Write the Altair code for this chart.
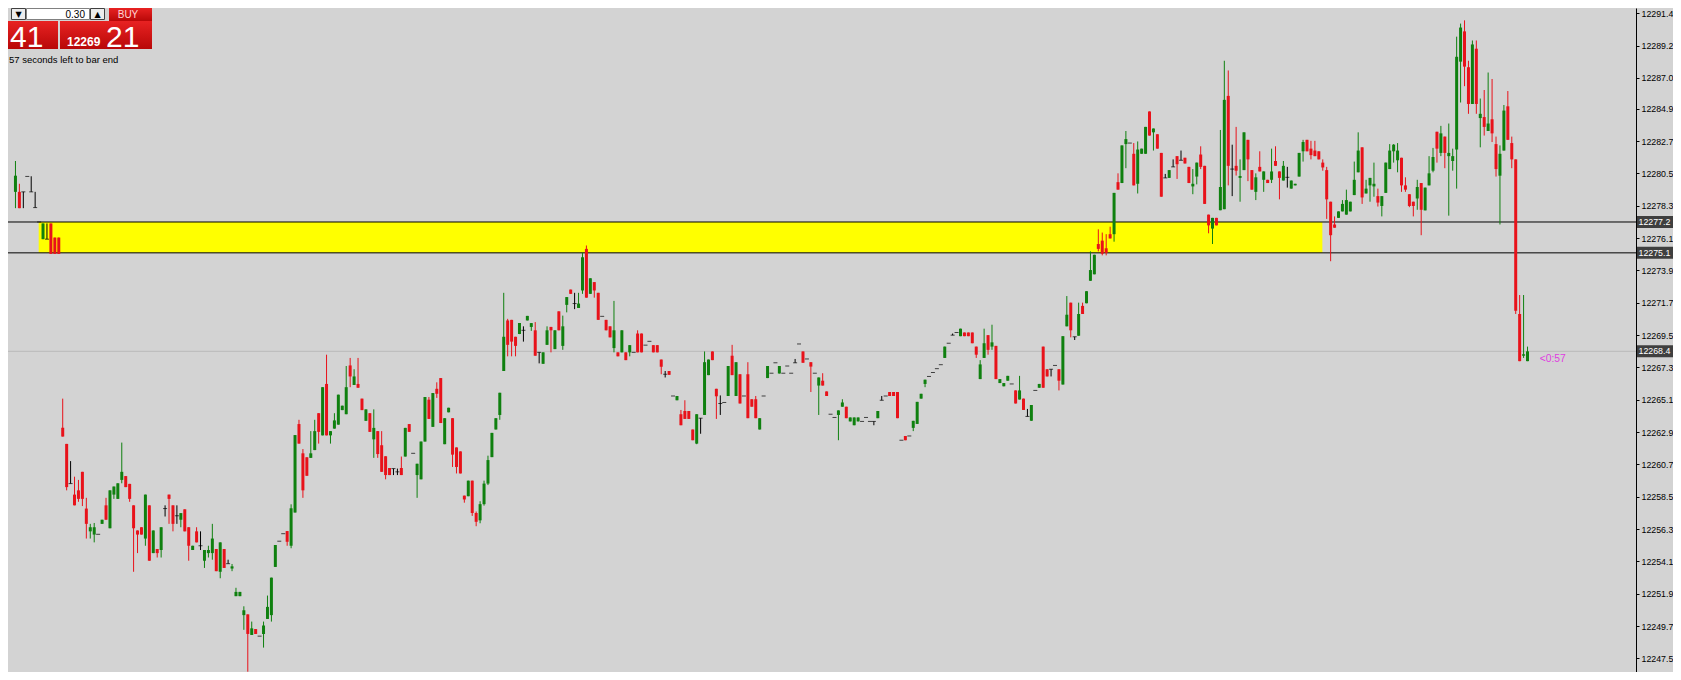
import altair as alt
import pandas as pd

# ---------------- data: candles as (open, high, low, close), one tuple per bar ----------------
SEG_A = [
    (12279.25, 12281.35, 12278.14, 12280.35), (12279.25, 12279.80, 12278.14, 12278.14),
    (12279.25, 12279.25, 12278.14, 12279.25), (12280.30, 12280.30, 12280.30, 12280.30),
    (12279.25, 12280.31, 12279.25, 12279.25), (12278.18, 12279.25, 12278.18, 12278.18),
    (12277.20, 12277.20, 12277.20, 12277.20), (12276.03, 12277.10, 12276.03, 12277.10),
    (12276.03, 12277.10, 12276.03, 12276.03), (12277.10, 12277.10, 12275.03, 12275.03),
    (12276.14, 12276.14, 12275.03, 12275.03), (12276.14, 12276.14, 12275.03, 12275.03),
]
SEG_B = [
    (12263.20, 12265.18, 12262.60, 12262.60), (12262.10, 12262.10, 12258.94, 12259.16),
    (12259.40, 12260.93, 12259.40, 12259.40), (12258.65, 12259.87, 12257.92, 12257.92),
    (12258.94, 12259.65, 12258.16, 12258.36), (12260.20, 12260.20, 12257.87, 12258.36),
    (12257.70, 12258.43, 12255.66, 12256.66), (12256.15, 12256.66, 12255.66, 12256.43),
    (12255.93, 12256.72, 12255.40, 12256.43), (12255.95, 12255.95, 12255.95, 12255.95),
    (12256.66, 12256.94, 12256.66, 12256.94), (12257.92, 12258.43, 12256.94, 12256.94),
    (12256.36, 12258.94, 12256.36, 12258.94), (12258.65, 12259.20, 12258.36, 12259.20),
    (12258.36, 12259.42, 12258.36, 12259.42), (12259.65, 12262.19, 12259.42, 12260.20),
    (12259.91, 12259.91, 12259.16, 12259.16), (12259.38, 12259.38, 12258.16, 12258.36),
    (12257.92, 12257.92, 12253.40, 12256.36), (12256.21, 12256.21, 12254.67, 12255.93),
    (12256.43, 12256.43, 12255.93, 12255.93), (12255.66, 12258.65, 12255.17, 12258.65),
    (12257.92, 12257.92, 12254.15, 12254.15), (12254.67, 12256.21, 12254.67, 12256.21),
    (12254.95, 12254.95, 12254.37, 12254.67), (12254.88, 12256.43, 12254.37, 12256.43),
    (12257.70, 12257.92, 12257.16, 12257.70), (12258.65, 12258.65, 12256.66, 12258.36),
    (12257.92, 12257.92, 12256.15, 12256.66), (12257.21, 12257.92, 12256.66, 12257.21),
    (12256.94, 12257.39, 12256.43, 12257.39), (12257.65, 12257.65, 12256.15, 12256.15),
    (12256.43, 12256.43, 12254.15, 12255.17), (12254.88, 12255.17, 12254.88, 12255.17),
    (12256.15, 12256.43, 12255.40, 12255.40), (12255.17, 12256.15, 12254.88, 12255.17),
    (12254.15, 12254.88, 12253.66, 12254.88), (12254.67, 12255.17, 12254.37, 12254.88),
    (12254.67, 12256.66, 12254.22, 12255.66), (12254.95, 12254.95, 12253.44, 12253.44),
    (12253.40, 12255.40, 12252.96, 12255.40), (12254.95, 12254.95, 12253.66, 12253.66),
    (12253.95, 12254.22, 12253.95, 12253.95), (12253.62, 12253.93, 12253.44, 12253.77),
    (12251.74, 12252.31, 12251.74, 12252.03),
]
SEG_C = [
    (12251.74, 12252.03, 12251.74, 12252.03), (12250.45, 12251.05, 12249.45, 12250.78),
    (12250.50, 12250.50, 12246.60, 12249.17), (12249.10, 12250.01, 12249.10, 12249.55),
    (12249.50, 12249.50, 12249.17, 12249.17), (12249.02, 12249.02, 12249.02, 12249.02),
    (12249.17, 12250.01, 12248.24, 12249.75), (12250.19, 12251.78, 12250.19, 12251.01),
    (12250.45, 12253.00, 12250.01, 12253.00), (12253.73, 12255.22, 12253.73, 12255.22),
    (12255.48, 12255.48, 12255.48, 12255.48), (12255.99, 12255.99, 12255.99, 12255.99),
    (12256.17, 12256.17, 12255.17, 12255.44), (12255.17, 12257.99, 12255.00, 12257.72),
    (12257.43, 12262.70, 12257.43, 12262.70), (12263.45, 12263.74, 12262.12, 12262.12),
    (12261.46, 12261.75, 12258.43, 12258.94), (12261.19, 12261.19, 12259.93, 12259.93),
    (12261.15, 12262.97, 12261.15, 12261.46), (12261.68, 12263.74, 12261.68, 12262.97),
    (12264.19, 12264.19, 12262.12, 12262.92), (12262.68, 12265.96, 12262.68, 12265.96),
    (12266.18, 12268.17, 12262.68, 12262.68), (12262.68, 12262.97, 12262.12, 12262.97),
    (12263.14, 12264.19, 12263.14, 12263.70), (12263.41, 12265.45, 12263.41, 12265.45),
    (12264.40, 12264.70, 12264.40, 12264.70), (12264.12, 12267.40, 12264.12, 12265.96),
    (12267.44, 12267.95, 12265.96, 12266.69), (12266.11, 12267.18, 12266.11, 12266.69),
    (12266.18, 12267.95, 12265.92, 12265.92), (12265.18, 12265.18, 12264.40, 12264.40),
    (12263.67, 12264.45, 12263.67, 12264.45), (12264.19, 12264.19, 12262.92, 12262.92),
    (12262.41, 12264.45, 12261.15, 12263.19), (12262.97, 12262.97, 12261.15, 12261.41),
    (12262.01, 12262.97, 12260.20, 12260.20), (12261.26, 12261.26, 12259.69, 12259.98),
    (12260.46, 12260.46, 12259.98, 12259.98), (12260.42, 12260.42, 12259.98, 12260.42),
    (12260.20, 12260.42, 12259.98, 12260.20), (12260.46, 12261.24, 12259.98, 12259.98),
    (12261.24, 12263.19, 12261.24, 12263.19), (12263.45, 12263.45, 12262.92, 12262.92),
    (12261.46, 12261.46, 12261.46, 12261.46), (12259.98, 12260.75, 12258.43, 12260.75),
    (12259.69, 12262.26, 12259.69, 12262.26), (12262.26, 12265.29, 12262.26, 12265.29),
    (12265.11, 12265.29, 12263.80, 12263.80), (12263.26, 12265.56, 12263.26, 12265.56),
    (12265.85, 12266.29, 12265.23, 12265.51), (12266.58, 12266.58, 12263.52, 12263.52),
    (12262.08, 12263.85, 12262.08, 12263.85), (12264.25, 12264.56, 12264.25, 12264.56),
    (12263.85, 12263.85, 12260.53, 12261.37), (12261.86, 12261.86, 12260.09, 12260.53),
    (12261.59, 12261.59, 12260.09, 12260.09), (12258.58, 12258.58, 12258.10, 12258.32),
    (12258.54, 12259.60, 12258.54, 12259.60),
]
SEG_D = [
    (12259.60, 12259.60, 12257.20, 12257.40), (12257.40, 12257.50, 12256.50, 12256.80),
    (12256.90, 12258.20, 12256.70, 12258.00), (12258.00, 12259.60, 12257.90, 12259.40),
    (12259.40, 12261.30, 12259.30, 12261.00), (12261.20, 12262.85, 12261.20, 12262.85),
    (12263.08, 12263.85, 12263.08, 12263.85), (12264.07, 12265.58, 12263.74, 12265.58),
    (12267.06, 12272.38, 12267.06, 12269.39), (12270.50, 12270.61, 12268.06, 12268.84),
    (12270.54, 12270.54, 12268.06, 12269.06), (12269.39, 12269.39, 12268.06, 12268.77),
    (12269.57, 12270.32, 12269.57, 12270.32), (12269.83, 12270.10, 12269.06, 12269.83),
    (12270.50, 12270.81, 12270.50, 12270.81), (12270.06, 12270.32, 12269.79, 12270.32),
    (12269.83, 12270.39, 12268.10, 12268.10), (12268.33, 12268.33, 12267.58, 12268.33),
    (12267.55, 12268.33, 12267.55, 12268.33), (12268.84, 12270.10, 12268.84, 12269.83),
    (12270.06, 12270.06, 12268.33, 12269.83), (12268.55, 12269.83, 12268.55, 12269.83),
    (12271.12, 12271.12, 12269.83, 12269.83), (12268.77, 12270.83, 12268.50, 12270.10),
    (12271.56, 12272.09, 12271.05, 12272.09), (12272.60, 12272.60, 12272.31, 12272.31),
    (12271.65, 12272.38, 12271.27, 12271.65), (12271.35, 12272.38, 12271.35, 12271.65),
    (12272.54, 12275.10, 12272.31, 12274.80), (12275.37, 12275.60, 12272.05, 12272.05),
    (12272.31, 12273.37, 12272.31, 12273.37), (12273.11, 12273.11, 12272.05, 12272.54),
    (12272.38, 12272.38, 12270.54, 12270.54), (12270.78, 12270.78, 12270.78, 12270.78),
    (12270.54, 12270.54, 12269.83, 12269.83), (12270.10, 12270.10, 12269.35, 12269.35),
    (12268.62, 12271.83, 12268.33, 12269.83), (12268.33, 12268.33, 12268.06, 12268.06),
    (12268.33, 12269.83, 12268.33, 12269.83), (12268.33, 12268.33, 12267.80, 12267.80),
    (12268.33, 12268.82, 12268.06, 12268.82), (12268.33, 12268.33, 12268.33, 12268.33),
    (12269.61, 12269.83, 12268.33, 12268.33), (12269.61, 12269.61, 12268.33, 12268.33),
    (12268.82, 12268.82, 12268.82, 12268.82), (12269.08, 12269.08, 12269.08, 12269.08),
    (12268.82, 12268.82, 12268.33, 12268.33), (12268.82, 12268.82, 12268.33, 12268.33),
    (12267.84, 12267.84, 12266.84, 12267.35), (12266.84, 12267.06, 12266.62, 12266.84),
    (12267.06, 12267.06, 12266.80, 12266.80), (12265.36, 12265.36, 12265.36, 12265.36),
    (12265.07, 12265.36, 12265.07, 12265.36), (12264.12, 12264.41, 12263.37, 12263.37),
    (12264.34, 12265.07, 12263.80, 12263.80), (12264.34, 12264.34, 12263.80, 12263.80),
    (12263.08, 12263.08, 12262.35, 12262.35),
]
SEG_E = [
    (12262.12, 12264.12, 12262.08, 12264.12), (12263.85, 12263.85, 12262.79, 12263.85),
    (12264.07, 12268.39, 12264.07, 12267.66), (12266.78, 12267.84, 12266.78, 12267.84),
    (12268.39, 12268.39, 12267.80, 12267.80), (12265.85, 12265.85, 12263.80, 12265.34),
    (12264.85, 12265.40, 12264.07, 12264.85), (12264.92, 12264.92, 12264.92, 12264.92),
    (12265.36, 12267.40, 12265.36, 12267.40), (12268.10, 12268.84, 12266.78, 12266.78),
    (12265.36, 12267.66, 12265.36, 12267.66), (12266.84, 12266.84, 12264.85, 12264.85),
    (12265.36, 12265.36, 12265.36, 12265.36), (12266.84, 12267.66, 12263.85, 12263.85),
    (12265.14, 12265.14, 12264.63, 12264.63), (12265.14, 12265.36, 12263.85, 12263.85),
    (12263.08, 12263.85, 12263.08, 12263.85), (12265.36, 12265.36, 12265.36, 12265.36),
    (12266.58, 12267.40, 12266.58, 12267.40), (12266.91, 12266.91, 12266.91, 12266.91),
    (12267.62, 12267.62, 12267.62, 12267.62), (12266.89, 12267.40, 12266.89, 12267.40),
    (12266.91, 12266.91, 12266.91, 12266.91), (12267.40, 12267.40, 12267.40, 12267.40),
    (12266.91, 12266.91, 12266.91, 12266.91), (12267.62, 12267.88, 12267.62, 12267.62),
    (12268.90, 12268.90, 12268.90, 12268.90), (12268.39, 12268.39, 12267.62, 12267.62),
    (12267.88, 12267.88, 12267.88, 12267.88), (12267.66, 12267.66, 12265.63, 12267.36),
    (12266.91, 12266.91, 12266.91, 12266.91), (12266.07, 12266.62, 12264.07, 12266.62),
    (12266.40, 12266.91, 12266.07, 12266.07), (12265.67, 12265.67, 12265.36, 12265.36),
    (12264.12, 12264.12, 12264.12, 12264.12), (12263.90, 12263.90, 12263.90, 12263.90),
    (12264.07, 12264.38, 12262.35, 12264.38), (12264.63, 12265.14, 12264.63, 12264.92),
    (12264.63, 12264.63, 12263.85, 12263.85), (12263.63, 12263.90, 12263.63, 12263.90),
    (12263.37, 12263.90, 12263.37, 12263.90), (12263.63, 12263.90, 12263.63, 12263.90),
    (12263.63, 12263.63, 12263.63, 12263.63), (12263.90, 12263.90, 12263.90, 12263.90),
    (12263.63, 12263.63, 12263.63, 12263.63), (12263.63, 12263.63, 12263.37, 12263.63),
    (12263.85, 12264.34, 12263.85, 12264.34), (12265.07, 12265.36, 12265.07, 12265.07),
    (12265.36, 12265.36, 12265.36, 12265.36), (12265.63, 12265.63, 12265.36, 12265.36),
    (12265.63, 12265.63, 12265.36, 12265.36), (12265.63, 12265.63, 12263.85, 12263.85),
    (12262.35, 12262.35, 12262.35, 12262.35), (12262.64, 12262.64, 12262.35, 12262.35),
    (12262.64, 12262.64, 12262.64, 12262.64), (12263.19, 12263.67, 12262.97, 12263.67),
    (12263.46, 12264.96, 12263.46, 12264.96), (12265.18, 12265.51, 12265.18, 12265.51),
    (12266.18, 12266.47, 12265.96, 12266.47), (12266.69, 12266.69, 12266.69, 12266.69),
]
SEG_F = [
    (12266.96, 12266.96, 12266.96, 12266.96), (12267.22, 12267.22, 12267.22, 12267.22),
    (12267.49, 12267.49, 12267.49, 12267.49), (12267.95, 12268.72, 12267.95, 12268.72),
    (12268.95, 12268.95, 12268.95, 12268.95), (12269.50, 12269.61, 12269.50, 12269.50),
    (12269.68, 12269.68, 12269.68, 12269.68), (12269.43, 12269.94, 12269.43, 12269.94),
    (12269.68, 12269.68, 12269.43, 12269.43), (12269.68, 12269.68, 12269.43, 12269.43),
    (12269.68, 12269.68, 12268.95, 12268.95), (12268.72, 12268.72, 12267.95, 12268.17),
    (12266.51, 12267.80, 12266.51, 12267.51), (12267.95, 12269.94, 12267.95, 12268.95),
    (12269.50, 12269.50, 12268.17, 12268.50), (12268.72, 12270.21, 12268.50, 12269.01),
    (12268.77, 12268.77, 12266.51, 12266.51), (12266.24, 12266.51, 12266.24, 12266.51),
    (12266.02, 12266.24, 12266.02, 12266.24), (12266.40, 12266.73, 12266.40, 12266.73),
    (12266.18, 12266.18, 12266.18, 12266.18), (12265.74, 12265.74, 12264.85, 12264.85),
    (12265.12, 12266.73, 12265.12, 12265.74), (12265.18, 12265.18, 12264.41, 12264.41),
    (12263.97, 12264.48, 12263.97, 12263.97), (12263.67, 12264.74, 12263.67, 12264.74),
    (12265.74, 12265.74, 12265.74, 12265.74), (12265.92, 12266.18, 12265.92, 12266.18),
    (12268.72, 12268.72, 12265.92, 12265.92), (12267.18, 12267.18, 12266.69, 12266.69),
    (12267.18, 12267.18, 12266.69, 12267.18), (12267.44, 12267.44, 12267.44, 12267.44),
    (12267.18, 12267.18, 12265.74, 12266.40), (12266.14, 12269.43, 12266.14, 12269.43),
    (12270.10, 12272.16, 12270.10, 12270.89), (12271.71, 12271.71, 12269.35, 12269.83),
    (12269.39, 12269.39, 12269.17, 12269.39), (12269.46, 12271.71, 12269.46, 12270.94),
    (12271.49, 12271.71, 12270.94, 12270.94), (12271.67, 12272.49, 12271.67, 12272.49),
    (12273.20, 12275.20, 12273.20, 12273.93), (12273.64, 12274.97, 12273.64, 12274.97),
    (12275.70, 12276.70, 12275.20, 12275.37), (12275.93, 12276.48, 12274.93, 12275.04),
    (12275.41, 12276.37, 12274.93, 12275.10), (12276.37, 12276.88, 12276.08, 12276.08),
    (12276.37, 12279.18, 12275.86, 12279.18), (12279.91, 12280.51, 12279.40, 12279.40),
    (12279.85, 12282.41, 12279.85, 12282.41), (12282.50, 12283.39, 12280.86, 12282.84),
    (12282.57, 12282.57, 12282.57, 12282.57), (12281.84, 12282.57, 12279.69, 12279.69),
    (12279.80, 12282.68, 12279.14, 12282.13), (12281.84, 12282.19, 12281.84, 12282.19),
    (12281.84, 12283.67, 12281.84, 12283.67), (12284.72, 12284.72, 12283.08, 12283.08),
]
SEG_G = [
    (12283.30, 12283.56, 12282.06, 12283.56), (12283.17, 12283.17, 12282.19, 12282.19),
    (12281.90, 12281.90, 12278.92, 12278.92), (12280.20, 12280.47, 12280.20, 12280.20),
    (12280.20, 12280.73, 12280.20, 12280.73), (12280.95, 12281.46, 12280.95, 12280.95),
    (12281.68, 12281.68, 12280.13, 12281.13), (12281.40, 12282.06, 12281.40, 12281.40),
    (12281.57, 12281.57, 12281.18, 12281.18), (12280.95, 12280.95, 12279.85, 12279.85),
    (12279.62, 12280.80, 12279.09, 12279.80), (12280.29, 12281.24, 12279.76, 12281.24),
    (12281.79, 12282.35, 12280.80, 12280.95), (12281.02, 12281.02, 12278.43, 12278.43),
    (12277.70, 12277.70, 12276.43, 12276.97), (12276.75, 12277.48, 12275.70, 12277.48),
    (12277.48, 12277.48, 12276.97, 12276.97), (12278.00, 12283.46, 12278.00, 12279.58),
    (12278.07, 12288.17, 12278.07, 12285.51), (12285.78, 12287.51, 12279.69, 12281.02),
    (12280.80, 12282.46, 12278.96, 12280.80), (12281.02, 12283.67, 12280.36, 12280.69),
    (12280.20, 12281.46, 12278.58, 12280.33), (12280.73, 12283.30, 12280.73, 12283.30),
    (12282.79, 12282.79, 12279.98, 12281.46), (12280.73, 12280.73, 12279.40, 12279.40),
    (12279.25, 12280.51, 12278.69, 12280.24), (12280.95, 12282.01, 12280.64, 12280.64),
    (12280.07, 12280.64, 12279.25, 12280.64), (12280.07, 12280.07, 12279.85, 12279.85),
    (12280.07, 12282.19, 12279.85, 12280.64), (12281.35, 12282.35, 12281.02, 12281.02),
    (12280.64, 12280.64, 12278.74, 12280.20), (12280.02, 12281.35, 12280.02, 12281.02),
    (12280.24, 12280.95, 12279.54, 12280.24), (12279.47, 12280.02, 12279.47, 12280.02),
    (12279.69, 12279.80, 12279.69, 12279.80), (12280.29, 12281.90, 12280.29, 12281.90),
    (12282.01, 12282.79, 12281.31, 12282.64), (12282.79, 12282.79, 12282.01, 12282.01),
    (12282.19, 12282.72, 12281.46, 12281.75), (12282.06, 12282.72, 12281.68, 12281.68),
    (12282.01, 12282.01, 12281.46, 12281.46), (12281.24, 12281.46, 12280.69, 12280.91),
    (12280.73, 12280.95, 12277.41, 12278.74), (12278.58, 12278.58, 12274.53, 12276.30),
    (12277.03, 12277.58, 12276.81, 12276.81), (12277.48, 12277.92, 12277.48, 12277.92),
    (12277.92, 12278.69, 12277.92, 12278.43), (12277.70, 12279.40, 12277.70, 12278.69),
    (12277.92, 12278.58, 12277.92, 12278.58), (12279.03, 12281.31, 12279.03, 12280.07),
    (12280.58, 12283.30, 12280.58, 12282.06), (12282.28, 12282.28, 12278.43, 12278.87),
    (12279.14, 12280.07, 12279.14, 12279.47), (12279.69, 12280.20, 12278.58, 12280.20),
]
SEG_H = [
    (12279.62, 12281.24, 12278.92, 12279.80), (12278.96, 12279.47, 12278.25, 12278.52),
    (12278.29, 12278.96, 12277.58, 12278.96), (12279.18, 12281.24, 12279.18, 12281.24),
    (12280.80, 12282.50, 12280.80, 12282.06), (12282.01, 12282.50, 12281.24, 12282.46),
    (12281.40, 12282.57, 12280.58, 12282.06), (12281.57, 12281.57, 12279.25, 12279.69),
    (12279.69, 12280.24, 12279.25, 12279.40), (12279.09, 12279.09, 12278.21, 12278.29),
    (12278.58, 12278.58, 12277.58, 12278.29), (12278.80, 12280.07, 12278.03, 12279.58),
    (12279.85, 12279.85, 12276.30, 12278.03), (12277.99, 12279.54, 12277.99, 12279.54),
    (12279.69, 12281.68, 12279.69, 12280.51), (12280.69, 12282.24, 12280.58, 12281.62),
    (12283.34, 12283.34, 12281.24, 12282.19), (12281.90, 12283.74, 12281.68, 12283.23),
    (12283.01, 12283.01, 12280.86, 12281.90), (12281.68, 12283.90, 12277.63, 12281.90),
    (12281.35, 12282.19, 12280.69, 12281.68), (12282.13, 12289.81, 12279.47, 12288.44),
    (12288.11, 12290.70, 12285.33, 12290.43), (12290.17, 12290.92, 12286.44, 12287.77),
    (12287.73, 12288.17, 12284.56, 12285.23), (12285.23, 12289.55, 12285.23, 12289.28),
    (12288.99, 12289.55, 12284.56, 12285.23), (12284.27, 12285.60, 12282.28, 12284.56),
    (12284.34, 12286.18, 12283.08, 12283.67), (12283.39, 12287.37, 12283.39, 12283.90),
    (12284.19, 12286.93, 12282.64, 12283.23), (12282.50, 12283.01, 12280.29, 12280.80),
    (12280.35, 12282.41, 12277.03, 12281.84), (12282.06, 12285.16, 12282.06, 12284.78),
    (12285.07, 12286.11, 12282.79, 12282.79), (12282.57, 12283.01, 12280.86, 12281.46),
    (12281.46, 12281.46, 12270.94, 12271.16), (12270.94, 12272.23, 12267.73, 12267.73),
    (12268.10, 12272.23, 12267.95, 12268.20), (12267.73, 12268.72, 12267.73, 12268.40),
]

PRICE_TICKS = [12291.4, 12289.2, 12287.0, 12284.9, 12282.7, 12280.5, 12278.3, 12276.1,
               12273.9, 12271.7, 12269.5, 12267.3, 12265.1, 12262.9, 12260.7, 12258.5,
               12256.3, 12254.1, 12251.9, 12249.7, 12247.5]
ZONE_LOW, ZONE_HIGH = 12275.1, 12277.2
ZONE_FIRST_BAR, ZONE_LAST_BAR = 5.9, 331.9
BID = 12268.4
MARKED_LEVELS = [12277.2, 12275.1, 12268.4]
TIMER = "<0:57"
TIMER_BAR, TIMER_PRICE = 387.1, 12267.85

# ---------------- build table ----------------
CANDLES = SEG_A + SEG_B + SEG_C + SEG_D + SEG_E + SEG_F + SEG_G + SEG_H
rows = []
for i, (o, h, l, c) in enumerate(CANDLES):
    kind = "up" if c > o else ("down" if c < o else "flat")
    rows.append({"i": i, "open": o, "high": h, "low": l, "close": c, "kind": kind})
df = pd.DataFrame(rows)

GREEN = "#0f800f"
RED = "#e8121a"
BG = "#d3d3d3"
W, H = 1628, 664
RIGHT = 37

xs = alt.Scale(domain=[-0.625, 410.28], nice=False, zero=False)
ys = alt.Scale(domain=[12246.58, 12291.76], nice=False, zero=False)
yaxis = alt.Axis(orient="right", values=PRICE_TICKS, format=".1f", title=None, grid=False,
                 domainColor="#000000", domainWidth=1, tickColor="#000000", tickSize=3,
                 labelPadding=2, labelColor="#000000", labelFont="Liberation Sans",
                 labelFontSize=8.8, labelFlush=False, labelOverlap=False, labelBound=False)
X = alt.X("i:Q", scale=xs, axis=None)
color = alt.Color("kind:N", scale=alt.Scale(domain=["up", "down", "flat"],
                                            range=[GREEN, RED, "#000000"]), legend=None)

zone_df = pd.DataFrame({"x0": [ZONE_FIRST_BAR], "x1": [ZONE_LAST_BAR],
                        "y0": [ZONE_LOW], "y1": [ZONE_HIGH]})
zone = alt.Chart(zone_df).mark_rect(color="#ffff00").encode(
    x=alt.X("x0:Q", scale=xs, axis=None), x2="x1:Q",
    y=alt.Y("y0:Q", scale=ys, axis=yaxis), y2="y1:Q")

bid = alt.Chart(pd.DataFrame({"p": [BID]})).mark_rule(color="#b9b9b9", strokeWidth=1).encode(
    y=alt.Y("p:Q", scale=ys, axis=yaxis), x=alt.value(0), x2=alt.value(W))

zone_lines = alt.Chart(pd.DataFrame({"p": [ZONE_HIGH, ZONE_LOW]})).mark_rule(
    color="#000000", strokeWidth=1).encode(
    y=alt.Y("p:Q", scale=ys, axis=yaxis), x=alt.value(0), x2=alt.value(W))

base = alt.Chart(df)
wicks = base.mark_rule(strokeWidth=1, clip=True).encode(
    x=X, y=alt.Y("low:Q", scale=ys, axis=yaxis), y2="high:Q", color=color)
bodies = base.transform_filter("datum.kind != 'flat'").mark_bar(
    size=3, orient="vertical", clip=True).encode(
    x=X, y=alt.Y("open:Q", scale=ys, axis=yaxis), y2="close:Q", color=color)
flats = base.transform_filter("datum.kind == 'flat'").mark_tick(
    orient="horizontal", size=4, thickness=1, clip=True, color="#000000").encode(
    x=X, y=alt.Y("open:Q", scale=ys, axis=yaxis))

marks_df = pd.DataFrame({"p": MARKED_LEVELS})
mark_boxes = alt.Chart(marks_df).mark_tick(
    orient="horizontal", size=RIGHT, thickness=12, color="#000000").encode(
    y=alt.Y("p:Q", scale=ys, axis=yaxis), x=alt.value(W + RIGHT / 2))
mark_text = alt.Chart(marks_df).mark_text(
    align="left", baseline="middle", color="#ffffff", font="Liberation Sans",
    fontSize=8.8).encode(
    y=alt.Y("p:Q", scale=ys, axis=yaxis), x=alt.value(W + 2.5),
    text=alt.Text("p:Q", format=".1f"))

timer = alt.Chart(pd.DataFrame({"i": [TIMER_BAR], "p": [TIMER_PRICE], "t": [TIMER]})).mark_text(
    align="left", baseline="middle", color="#e03ce0", font="Liberation Sans", fontSize=10.3).encode(
    x=X, y=alt.Y("p:Q", scale=ys, axis=yaxis), text="t:N")

# ---------------- one-click trading panel (decoration) ----------------
one = pd.DataFrame({"k": [0]})
red_grad = alt.Gradient(gradient="linear", x1=0, x2=0, y1=0, y2=1,
                        stops=[alt.GradientStop(color="#e82222", offset=0),
                               alt.GradientStop(color="#b80808", offset=1)])


def box(x, y, x2, y2, fill, stroke=None):
    kw = {"fill": fill}
    if stroke:
        kw["stroke"] = stroke
        kw["strokeWidth"] = 1
    return alt.Chart(one).mark_rect(**kw).encode(
        x=alt.value(x), x2=alt.value(x2), y=alt.value(y), y2=alt.value(y2))


def label(txt, x, y, size, col, align="left", weight="normal", font="Liberation Sans"):
    return alt.Chart(one).mark_text(align=align, baseline="alphabetic", fontSize=size,
                                    color=col, fontWeight=weight, font=font).encode(
        x=alt.value(x), y=alt.value(y), text=alt.value(txt))


panel = [
    box(3.5, 0.5, 17.5, 11.5, "#ececec", "#404040"),
    label("▼", 10.5, 9, 8, "#000000", align="center", font="DejaVu Sans"),
    box(18.5, 0.5, 81.5, 11.5, "#ffffff", "#808080"),
    label("0.30", 77, 9.5, 10, "#000000", align="right"),
    box(82.5, 0.5, 96.5, 11.5, "#ececec", "#404040"),
    label("▲", 89.5, 9, 8, "#000000", align="center", font="DejaVu Sans"),
    alt.Chart(one).mark_rect(fill=red_grad).encode(
        x=alt.value(101), x2=alt.value(144), y=alt.value(0), y2=alt.value(13)),
    label("BUY", 120, 9.5, 10, "#ffd6d6", align="center"),
    alt.Chart(one).mark_rect(fill=red_grad).encode(
        x=alt.value(0), x2=alt.value(50), y=alt.value(13), y2=alt.value(41)),
    alt.Chart(one).mark_rect(fill=red_grad).encode(
        x=alt.value(52), x2=alt.value(144), y=alt.value(13), y2=alt.value(41)),
    label("41", 2, 38.5, 30, "#ffffff"),
    label("12269", 59, 38, 12, "#ffffff", weight="bold"),
    label("21", 98, 38.5, 30, "#ffffff"),
    label("57 seconds left to bar end", 1, 54.5, 9.5, "#000000"),
]

chart = alt.layer(zone, bid, zone_lines, wicks, bodies, flats, mark_boxes, mark_text, timer,
                  *panel).properties(
    width=W, height=H, background=BG,
    autosize=alt.AutoSizeParams(type="none"),
    padding={"left": 0, "top": 0, "right": RIGHT, "bottom": 0},
).configure_view(strokeWidth=0)

chart.save("out.html", embed_options={"renderer": "svg", "actions": False})
